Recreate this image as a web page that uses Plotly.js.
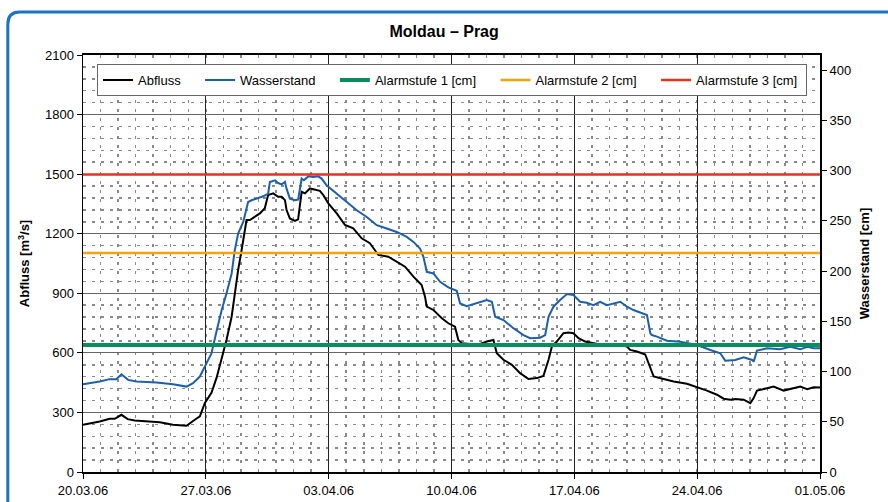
<!DOCTYPE html>
<html>
<head>
<meta charset="utf-8">
<script src="https://cdn.plot.ly/plotly-3.0.1.min.js"></script>
<style>
html,body{margin:0;padding:0;background:#fff;}
#chart{width:888px;height:502px;}
</style>
</head>
<body>
<div id="chart"></div>
<script>
// Tick labels (weekly)
const tickDays = [0, 7, 14, 21, 28, 35, 42];
const tickLabels = ["20.03.06", "27.03.06", "03.04.06", "10.04.06", "17.04.06", "24.04.06", "01.05.06"];

// Abfluss [m3/s] — x in days since 20.03.06
const abflussDay = [0,0.95,1.52,1.81,2.19,2.55,2.95,4.38,5.12,5.9,6.37,6.66,6.94,7.13,7.32,7.61,7.9,8.18,8.47,8.65,8.84,9.04,9.22,9.32,9.51,9.79,10.08,10.36,10.55,10.84,11.12,11.32,11.51,11.6,11.79,12.08,12.26,12.46,12.65,12.93,13.22,13.5,13.69,13.98,14.46,14.93,15.4,15.88,16.35,16.83,17.4,17.88,18.35,18.83,19.3,19.49,19.59,19.97,20.45,20.82,21.2,21.39,21.59,22.06,22.63,23.01,23.39,23.58,23.96,24.44,24.91,25.39,25.86,26.24,26.53,26.72,27.0,27.38,27.67,27.95,28.24,28.62,29.09,29.86,30.62,31.0,31.18,31.57,32.04,32.23,32.42,32.52,33.09,33.66,34.42,34.99,35.56,36.13,36.51,36.89,37.17,37.65,38.03,38.22,38.41,38.98,39.36,39.93,40.5,40.88,41.27,41.64,42.0];
const abflussQ = [238,254,268,268,288,266,259,250,238,233,263,280,347,374,399,474,565,666,782,900,1017,1118,1210,1269,1269,1285,1302,1328,1395,1403,1386,1386,1369,1319,1277,1265,1272,1411,1403,1428,1420,1416,1395,1353,1302,1244,1227,1177,1152,1093,1084,1059,1034,984,942,883,833,816,774,749,732,665,649,645,645,657,665,598,565,540,498,468,473,484,565,632,657,699,702,699,674,657,649,635,640,632,615,607,592,548,500,481,468,456,444,428,410,389,369,364,367,364,347,372,410,422,430,410,422,430,417,427,425];

// Wasserstand [cm]
const wasserDay = [0,0.95,1.52,1.9,2.19,2.57,3.05,4.19,5.13,5.9,6.27,6.66,6.94,7.13,7.32,7.61,7.9,8.18,8.47,8.65,8.84,9.13,9.41,9.61,9.89,10.27,10.55,10.65,10.94,11.12,11.32,11.51,11.6,11.79,12.08,12.26,12.46,12.59,12.84,13.12,13.41,13.6,13.88,14.46,15.03,15.6,16.17,16.74,17.31,17.88,18.45,18.83,19.21,19.4,19.59,19.97,20.35,20.82,21.3,21.49,21.87,22.44,23.01,23.3,23.49,23.96,24.53,25.1,25.48,26.05,26.34,26.53,26.81,27.19,27.58,27.95,28.33,28.71,29.09,29.47,29.86,30.62,31.0,31.37,32.14,32.33,32.42,32.71,33.28,34.04,34.99,35.75,36.32,36.6,37.17,37.65,38.13,38.22,38.41,38.98,39.73,40.3,40.88,41.27,41.64,42];
const wasserCm = [87.4,90,92.4,92.4,97.3,91.7,90,89,87.4,85,88.4,95,104.9,110.8,118,140,161,177.8,197.6,220.8,237.3,248.9,268.7,270.4,272,274.4,277,288.6,290.3,287.6,286.3,288.6,282,272,270.4,271.1,292,290.3,294.2,293.5,294.2,292,285.3,277,268.7,260.5,253.8,245.6,242.3,238.9,234,229,222.4,214.1,199.2,197.6,189.3,183.7,180.3,167.8,165.1,167.8,171.1,169.4,154.5,151.2,143,136.3,133.1,133.7,136.3,154.5,164.5,171.1,177.1,176.1,169.4,168.4,166.1,169.4,166.1,169.4,164.5,161.2,156.2,138,136.3,134.7,130.7,129.7,126.4,121.4,118.2,110.8,111.5,114.2,111.5,109.8,120.8,123.1,122.1,124.7,122.1,124.7,123.1,123.1];

// Alarm levels [cm]
const alarmNames = ["Alarmstufe 1 [cm]", "Alarmstufe 2 [cm]", "Alarmstufe 3 [cm]"];
const alarmLevels = [126.5, 218, 296];
const alarmColors = ["#0a8c5c", "#f5a30a", "#e5321e"];
const alarmWidths = [4, 2.5, 2.5];

const xSpan = [tickDays[0], tickDays[tickDays.length - 1]];
const PAD = "\u00a0\u00a0\u00a0\u00a0";

const traces = [
  {x: abflussDay, y: abflussQ, name: "Abfluss" + PAD, type: "scatter", mode: "lines",
   line: {color: "#000000", width: 2}, yaxis: "y"},
  {x: wasserDay, y: wasserCm, name: "Wasserstand" + PAD, type: "scatter", mode: "lines",
   line: {color: "#1c5fae", width: 2}, yaxis: "y2"}
];
alarmNames.forEach((n, i) => {
  traces.push({x: xSpan, y: [alarmLevels[i], alarmLevels[i]], name: n + (i < 2 ? PAD : "\u00a0"), type: "scatter", mode: "lines",
    line: {color: alarmColors[i], width: alarmWidths[i]}, yaxis: "y2"});
});

const F = "Liberation Sans, Arial, sans-serif";
const layout = {
  width: 888, height: 502,
  margin: {l: 83, r: 68, t: 55, b: 30},
  paper_bgcolor: "#ffffff", plot_bgcolor: "#ffffff",
  font: {family: F, size: 13, color: "#000"},
  showlegend: true,
  title: {text: "<b>Moldau – Prag</b>", font: {family: F, size: 16, color: "#000"},
          x: 0.49, xref: "paper", xanchor: "center", y: 0.938, yref: "container", yanchor: "middle"},
  xaxis: {
    range: xSpan, tickmode: "array", tickvals: tickDays, ticktext: tickLabels,
    showgrid: true, gridcolor: "#222", gridwidth: 1,
    zeroline: false, showline: true, linecolor: "#000", linewidth: 2, mirror: true,
    ticks: "outside", ticklen: 5, tickcolor: "#000", tickfont: {size: 13},
    minor: {dtick: 1, tick0: 0, showgrid: true, gridcolor: "#8a8a8a", griddash: "3px,6px", gridwidth: 1.5, ticks: ""}
  },
  yaxis: {
    range: [0, 2100], dtick: 300, tick0: 0,
    showgrid: true, gridcolor: "#666", gridwidth: 1,
    zeroline: false, showline: true, linecolor: "#000", linewidth: 1.5,
    ticks: "outside", ticklen: 5, tickcolor: "#000", tickfont: {size: 13},
    title: {text: "<b>Abfluss [m<sup>3</sup>/s]</b>", font: {size: 13}, standoff: 12},
    minor: {dtick: 60, tick0: 0, showgrid: true, gridcolor: "#8a8a8a", griddash: "3px,6px", gridwidth: 1.5, ticks: ""}
  },
  yaxis2: {
    range: [0, 415], dtick: 50, tick0: 0, overlaying: "y", side: "right",
    showgrid: false, zeroline: false, showline: true, linecolor: "#000", linewidth: 2,
    ticks: "outside", ticklen: 5, tickcolor: "#000", tickfont: {size: 13},
    title: {text: "<b>Wasserstand [cm]</b>", font: {size: 13}, standoff: 10}
  },
  legend: {
    orientation: "h", x: 0.019, y: 0.978, xanchor: "left", yanchor: "top",
    bgcolor: "#ffffff", bordercolor: "#666", borderwidth: 1,
    font: {family: F, size: 13, color: "#000"}, traceorder: "normal"
  },
  shapes: [{
    type: "path", xref: "paper", yref: "paper", layer: "above",
    path: "M -0.102,-0.2 L -0.102,1.074 Q -0.102,1.103 -0.086,1.103 L 1.3,1.103",
    line: {color: "#1a74c4", width: 3}
  }]
};

Plotly.newPlot("chart", traces, layout, {displayModeBar: false, staticPlot: true});
</script>
</body>
</html>
